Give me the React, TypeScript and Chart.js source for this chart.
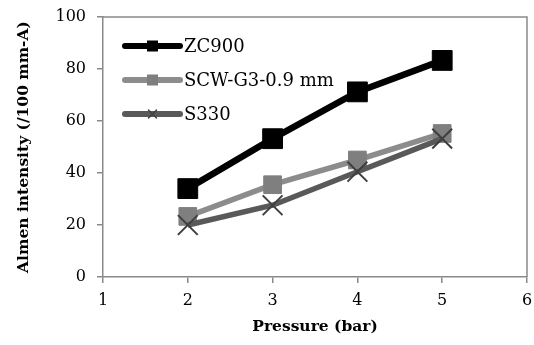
import React, { useEffect, useRef } from "react";
import { Chart, registerables } from "chart.js";

Chart.register(...registerables);

const pressures = [2, 3, 4, 5];
const zc900 = [34.0, 53.2, 71.2, 83.3];
const scw = [23.3, 35.5, 45.0, 55.2];
const s330 = [20.0, 27.6, 40.5, 53.2];
const seriesNames = ["ZC900", "SCW-G3-0.9 mm", "S330"];
const xTicks = [1, 2, 3, 4, 5, 6];
const yTicks = [0, 20, 40, 60, 80, 100];

const AXIS = "#898989";
const SERIF = "'DejaVu Serif', serif";

const legendPlugin = {
  id: "lineLegend",
  afterDatasetsDraw(chart: any) {
    const ctx = chart.ctx;
    const x0 = chart.chartArea.left + 22;
    const x1 = x0 + 55;
    const ys = [46, 80, 114];
    chart.data.datasets.forEach((ds: any, i: number) => {
      const y = ys[i];
      ctx.save();
      ctx.lineCap = "round";
      ctx.strokeStyle = ds.borderColor;
      ctx.lineWidth = 6;
      ctx.beginPath();
      ctx.moveTo(x0, y);
      ctx.lineTo(x1, y);
      ctx.stroke();
      const cx = (x0 + x1) / 2;
      if (ds.pointStyle === "rect") {
        ctx.fillStyle = ds.pointBackgroundColor;
        ctx.fillRect(cx - 5.5, y - 5.5, 11, 11);
      } else {
        ctx.strokeStyle = ds.pointBorderColor;
        ctx.lineWidth = 1.5;
        ctx.beginPath();
        ctx.moveTo(cx - 4, y - 4);
        ctx.lineTo(cx + 4, y + 4);
        ctx.moveTo(cx + 4, y - 4);
        ctx.lineTo(cx - 4, y + 4);
        ctx.stroke();
      }
      ctx.fillStyle = "#000";
      ctx.font = `18px ${SERIF}`;
      ctx.textBaseline = "middle";
      ctx.textAlign = "left";
      ctx.fillText(ds.label, x1 + 4, y + 1);
      ctx.restore();
    });
  },
};

const borderPlugin = {
  id: "boxBorder",
  afterDraw(chart: any) {
    const { ctx, chartArea } = chart;
    ctx.save();
    ctx.strokeStyle = AXIS;
    ctx.lineWidth = 1.5;
    ctx.beginPath();
    ctx.moveTo(chartArea.left, chartArea.top);
    ctx.lineTo(chartArea.right, chartArea.top);
    ctx.lineTo(chartArea.right, chartArea.bottom);
    ctx.stroke();
    ctx.restore();
  },
};

export default function App() {
  const ref = useRef<HTMLCanvasElement | null>(null);
  useEffect(() => {
    if (!ref.current) return;
    const mk = (arr: number[]) => pressures.map((x, i) => ({ x, y: arr[i] }));
    const chart = new Chart(ref.current, {
      type: "line",
      data: {
        datasets: [
          {
            label: seriesNames[0],
            data: mk(zc900),
            borderColor: "#000000",
            backgroundColor: "#000000",
            pointBackgroundColor: "#000000",
            pointBorderColor: "#000000",
            borderWidth: 6.5,
            pointStyle: "rect",
            pointRadius: 14,
            pointBorderWidth: 1,
            order: 0,
          } as any,
          {
            label: seriesNames[1],
            data: mk(scw),
            borderColor: "#8c8c8c",
            backgroundColor: "#7f7f7f",
            pointBackgroundColor: "#7f7f7f",
            pointBorderColor: "#7f7f7f",
            borderWidth: 5.5,
            pointStyle: "rect",
            pointRadius: 12.5,
            pointBorderWidth: 1,
            order: 2,
          },
          {
            label: seriesNames[2],
            data: mk(s330),
            borderColor: "#595959",
            backgroundColor: "#595959",
            pointBackgroundColor: "#595959",
            pointBorderColor: "#3f3f3f",
            borderWidth: 5.5,
            pointStyle: "crossRot",
            pointRadius: 14,
            pointBorderWidth: 2,
            order: 1,
          },
        ],
      },
      options: {
        animation: false,
        responsive: true,
        maintainAspectRatio: false,
        layout: { autoPadding: false, padding: { top: 17, right: 7, bottom: 0, left: 0 } },
        plugins: { legend: { display: false }, tooltip: { enabled: false } },
        scales: {
          x: {
            type: "linear",
            min: 1,
            max: 6,
            afterFit: (s: any) => {
              s.height = 68;
              s.paddingLeft = 0;
              s.paddingRight = 0;
            },
            afterBuildTicks: (s: any) => {
              s.ticks = xTicks.map((v) => ({ value: v }));
            },
            border: { color: AXIS, width: 1.5 },
            grid: { drawOnChartArea: false, drawTicks: true, tickLength: 6, color: AXIS, lineWidth: 1.5 },
            ticks: { color: "#000", font: { family: SERIF, size: 16 }, padding: 8, maxRotation: 0 },
            title: {
              display: true,
              text: "Pressure (bar)",
              color: "#000",
              font: { family: SERIF, size: 15.5, weight: "bold" },
              padding: { top: 0, bottom: 9 },
            },
          },
          y: {
            min: 0,
            max: 100,
            afterFit: (s: any) => {
              s.width = 103;
              s.paddingTop = 0;
              s.paddingBottom = 0;
            },
            afterBuildTicks: (s: any) => {
              s.ticks = yTicks.map((v) => ({ value: v }));
            },
            border: { color: AXIS, width: 1.5 },
            grid: { drawOnChartArea: false, drawTicks: true, tickLength: 6, color: AXIS, lineWidth: 1.5 },
            ticks: { color: "#000", font: { family: SERIF, size: 16 }, padding: 11 },
            title: {
              display: true,
              text: "Almen intensity (/100 mm-A)",
              color: "#000",
              font: { family: SERIF, size: 15.5, weight: "bold" },
              padding: { top: 15, bottom: 0 },
            },
          },
        },
      },
      plugins: [borderPlugin, legendPlugin],
    });
    return () => chart.destroy();
  }, []);
  return (
    <div style={{ position: "fixed", left: 0, top: 0, width: 534, height: 345, background: "#fff" }}>
      <canvas ref={ref} />
    </div>
  );
}
